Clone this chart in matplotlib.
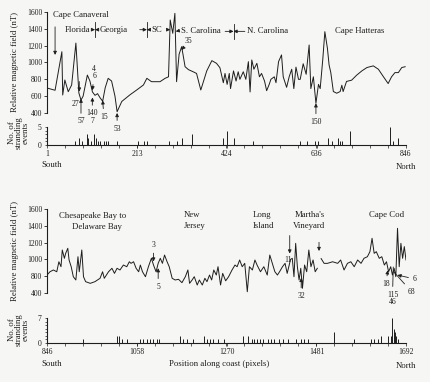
import matplotlib

matplotlib.use("Agg")

import matplotlib.pyplot as plt
import numpy as np

# ---- magnetic field trace, south section (position along coast, nT) ----
south_pos = [1, 20, 36, 38, 43, 51, 59, 69, 76, 81, 86, 96, 102, 108, 114, 120, 126, 132, 138, 145,
             153, 161, 166, 177, 196, 212, 228, 236, 247, 267, 279, 287, 291, 297, 302, 306, 312, 318,
             326, 334, 345, 353, 363, 377, 389, 400, 408, 416, 420, 425, 430, 433, 440, 446, 451, 455,
             463, 469, 475, 479, 483, 488, 495, 501, 506, 513, 518, 524, 528, 536, 540, 546, 553, 557,
             565, 571, 577, 582, 587, 593, 597, 604, 611, 618, 622, 628, 634, 640, 644, 650, 655, 661,
             665, 669, 675, 683, 691, 695, 698, 706, 718, 730, 742, 754, 769, 781, 793, 804, 812, 820,
             828, 836, 844]
south_field = [697, 670, 1128, 614, 792, 653, 733, 1231, 638, 554, 600, 851, 780, 650, 610, 630, 580,
               540, 700, 812, 780, 600, 415, 537, 615, 673, 733, 812, 772, 772, 812, 830, 1505, 1347,
               1584, 772, 1100, 1188, 950, 915, 890, 870, 673, 900, 1022, 990, 938, 760, 870, 740, 870,
               690, 900, 780, 890, 800, 890, 800, 1010, 650, 1030, 920, 990, 830, 870, 780, 665, 740,
               800, 830, 760, 1010, 1090, 830, 705, 830, 920, 690, 945, 800, 800, 985, 860, 1208, 690,
               830, 515, 740, 690, 1030, 1366, 1170, 970, 880, 655, 635, 655, 730, 655, 775, 790, 850,
               900, 940, 960, 920, 830, 750, 830, 880, 880, 940, 950]

# ---- magnetic field trace, north section ----
north_pos = [846, 853, 861, 869, 874, 879, 882, 887, 890, 895, 898, 903, 908, 914, 919, 922, 928, 932,
             937, 948, 959, 971, 977, 981, 991, 999, 1005, 1011, 1018, 1026, 1034, 1040, 1044, 1050,
             1056, 1062, 1066, 1071, 1078, 1085, 1092, 1097, 1103, 1108, 1113, 1118, 1123, 1129, 1134,
             1141, 1148, 1156, 1164, 1172, 1178, 1182, 1188, 1193, 1200, 1205, 1212, 1218, 1223, 1229,
             1234, 1239, 1245, 1249, 1255, 1260, 1267, 1274, 1282, 1289, 1294, 1300, 1306, 1312, 1318,
             1323, 1330, 1336, 1341, 1349, 1357, 1365, 1371, 1377, 1383, 1389, 1394, 1401, 1407, 1412,
             1420, 1424, 1428, 1432, 1436, 1440, 1444, 1448, 1453, 1458, 1463, 1468, 1473, 1478, 1483,
             1487, 1492, 1499, 1507, 1519, 1531, 1538, 1546, 1554, 1562, 1570, 1578, 1586, 1593, 1601,
             1607, 1612, 1617, 1622, 1629, 1635, 1641, 1646, 1651, 1656, 1660, 1664, 1668, 1672, 1676,
             1680, 1684, 1688, 1692]
north_field = [814, 853, 874, 853, 972, 913, 1112, 1013, 1072, 1132, 993, 913, 794, 755, 1032, 853,
               1112, 794, 735, 715, 735, 775, 853, 775, 853, 894, 834, 894, 874, 933, 913, 972, 953,
               972, 894, 853, 933, 853, 794, 913, 1013, 933, 853, 953, 1013, 953, 1052, 972, 913, 775,
               755, 763, 723, 794, 874, 715, 755, 794, 695, 755, 695, 775, 735, 814, 755, 874, 814, 913,
               695, 834, 745, 794, 874, 933, 913, 993, 913, 953, 615, 913, 874, 993, 933, 853, 913, 814,
               1052, 953, 853, 814, 853, 913, 953, 834, 1000, 1013, 794, 1191, 913, 755, 894, 656, 933,
               853, 1112, 913, 993, 853, 894, np.nan, 1010, 953, 953, 972, 953, 993, 874, 953, 972, 913,
               993, 953, 1013, 1032, 1092, 1251, 1072, 1092, 1013, 1032, 933, 972, 853, 913, 814, 894,
               794, 1370, 913, 1191, 1013, 1152, 993]

# ---- stranding events ----
south_strand_pos = [67, 77, 83, 94, 98, 104, 112, 116, 122, 126, 134, 140, 145, 165, 216, 229, 237, 287,
                    308, 318, 342, 415, 424, 440, 487, 597, 612, 632, 640, 663, 671, 687, 691, 695, 714,
                    808, 816, 828, 845]
south_strand_n = [1, 2, 1, 3, 2, 1, 3, 2, 1, 1, 1, 1, 1, 1, 1, 1, 1, 1, 1, 2, 3, 2, 4, 2, 1, 1, 1, 1, 1,
                  2, 1, 2, 1, 1, 4, 5, 1, 2, 3]
north_strand_pos = [932, 1011, 1016, 1023, 1035, 1066, 1073, 1082, 1089, 1096, 1106, 1111, 1160, 1167,
                    1177, 1189, 1215, 1222, 1231, 1238, 1248, 1262, 1307, 1319, 1328, 1333, 1342, 1349,
                    1356, 1366, 1373, 1380, 1392, 1401, 1415, 1432, 1444, 1451, 1460, 1522, 1569, 1609,
                    1616, 1626, 1633, 1649, 1656, 1660, 1663, 1665, 1668, 1673]
north_strand_n = [1, 2, 2, 1, 1, 1, 1, 1, 1, 1, 1, 1, 2, 1, 1, 1, 2, 1, 1, 1, 1, 1, 2, 2, 1, 1, 1, 1, 1,
                  1, 1, 1, 1, 1, 1, 1, 1, 1, 1, 3, 1, 1, 1, 1, 2, 2, 2, 7, 4, 3, 2, 1]

south_ticks = [1, 213, 424, 636, 846]
north_ticks = [846, 1058, 1270, 1481, 1692]

INK = "#1e1e1e"
BG = "#f6f6f4"

plt.rcParams["font.family"] = ["Liberation Serif", "DejaVu Serif"]
plt.rcParams["text.color"] = INK
plt.rcParams["axes.edgecolor"] = INK
plt.rcParams["xtick.color"] = INK
plt.rcParams["ytick.color"] = INK

W, H = 431, 382
fig = plt.figure(figsize=(W / 100, H / 100), dpi=100, facecolor=BG)


def px_axes(left, top, right, bottom):
    return fig.add_axes([left / W, 1 - bottom / H, (right - left) / W, (bottom - top) / H])


def style_field_axis(ax, lo, ticks, labels):
    ax.set_facecolor("none")
    for side in ["top", "right", "bottom"]:
        ax.spines[side].set_visible(False)
    ax.spines["left"].set_linewidth(0.8)
    ax.set_ylim(lo, 1600)
    ax.set_yticks(ticks, labels)
    ax.tick_params(axis="y", length=2, width=0.6, labelsize=5.5, pad=1.5)
    ax.set_xticks([])


def style_strand_axis(ax, x0, x1, ymax, ticks):
    ax.set_facecolor("none")
    for side in ["top", "right"]:
        ax.spines[side].set_visible(False)
    for side in ["left", "bottom"]:
        ax.spines[side].set_linewidth(0.8)
    ax.set_xlim(x0, x1)
    ax.set_ylim(0, ymax)
    ax.set_yticks([0, ymax], [str(0), str(ymax)])
    ax.set_yticks(range(ymax + 1), minor=True)
    ax.set_xticks(ticks, [str(t) for t in ticks])
    ax.set_xticks(np.linspace(x0, x1, 21), minor=True)
    ax.tick_params(axis="both", which="both", length=1.8, width=0.5, labelsize=5.5, pad=2)


arrow = dict(arrowstyle="-|>", color=INK, lw=0.6, mutation_scale=5, shrinkA=1, shrinkB=0)
line = dict(arrowstyle="-", color=INK, lw=0.6, shrinkA=1, shrinkB=0)
lab = dict(fontsize=6.3)
num = dict(fontsize=5.5, ha="center", va="center")

# ---------------- south panel ----------------
ax1 = px_axes(47, 12, 406, 113)
ax1.plot(south_pos, south_field, color=INK, lw=0.7)
ax1.set_xlim(1, 846)
style_field_axis(ax1, 400, [400, 600, 800, 1000, 1200, 1400, 1600],
                 ["400", "600", "800", "1000", "1200", "1400", "1600"])

ax1.text(15, 1560, "Cape Canaveral", ha="left", va="center", **lab)
ax1.annotate("", xy=(20, 1090), xytext=(20, 1440), arrowprops=arrow)
ax1.text(102, 1390, "Florida", ha="right", va="center", **lab)
ax1.text(126, 1390, "Georgia", ha="left", va="center", **lab)
ax1.text(247, 1390, "SC", ha="left", va="center", **lab)
ax1.text(316, 1370, "S. Carolina", ha="left", va="center", **lab)
ax1.text(472, 1370, "N. Carolina", ha="left", va="center", **lab)
ax1.text(738, 1370, "Cape Hatteras", ha="center", va="center", **lab)
for left, mid, right, yb in [(102, 114, 126, 1390), (214, 236, 247, 1390), (415, 440, 472, 1370)]:
    ax1.annotate("", xy=(mid, yb), xytext=(left + 2, yb), arrowprops=arrow)
    ax1.annotate("", xy=(mid, yb), xytext=(right - 2, yb), arrowprops=arrow)
    ax1.plot([mid, mid], [yb - 90, yb + 90], color=INK, lw=0.6)
ax1.annotate("", xy=(291, 1390), xytext=(281, 1390), arrowprops=arrow)
ax1.annotate("", xy=(304, 1370), xytext=(314, 1380), arrowprops=arrow)

ax1.annotate("35", xy=(318, 1150), xytext=(335, 1250), arrowprops=arrow, **num)
ax1.annotate("", xy=(77, 655), xytext=(77, 790), arrowprops=arrow)
ax1.text(67, 507, "27", **num)
ax1.annotate("57", xy=(81, 570), xytext=(81, 300), arrowprops=arrow, **num)
ax1.annotate("4\n6", xy=(108, 670), xytext=(112, 880), arrowprops=arrow, linespacing=0.95, **num)
ax1.annotate("140\n7", xy=(108, 585), xytext=(107, 350), arrowprops=arrow, linespacing=0.95, **num)
ax1.annotate("15", xy=(132, 550), xytext=(135, 355), arrowprops=arrow, **num)
ax1.annotate("53", xy=(166, 400), xytext=(166, 215), arrowprops=arrow, **num)
ax1.annotate("150", xy=(634, 515), xytext=(634, 295), arrowprops=arrow, **num)

ax2 = px_axes(47, 127, 406, 145)
ax2.vlines(south_strand_pos, 0, south_strand_n, color=INK, lw=0.7)
style_strand_axis(ax2, 1, 846, 5, south_ticks)

# ---------------- north panel ----------------
ax3 = px_axes(47, 209, 406, 293)
ax3.plot(north_pos, north_field, color=INK, lw=0.7)
ax3.set_xlim(846, 1692)
style_field_axis(ax3, 600, [600, 800, 1000, 1200, 1400, 1600],
                 ["400", "800", "1000", "1200", "1400", "1600"])

for x, y, s in [(953, 1520, "Chesapeake Bay to"), (964, 1389, "Delaware Bay"),
                (1188, 1528, "New"), (1194, 1397, "Jersey"),
                (1353, 1528, "Long"), (1356, 1397, "Island"),
                (1465, 1528, "Martha's"), (1463, 1397, "Vineyard"),
                (1647, 1528, "Cape Cod")]:
    ax3.text(x, y, s, ha="center", va="center", **lab)

ax3.annotate("3", xy=(1097, 975), xytext=(1097, 1171), arrowprops=arrow, **num)
ax3.annotate("5", xy=(1108, 895), xytext=(1108, 675), arrowprops=arrow, **num)
ax3.annotate("", xy=(1418, 1070), xytext=(1418, 1300), arrowprops=arrow)
ax3.text(1414, 993, "11", **num)
ax3.annotate("32", xy=(1445, 779), xytext=(1445, 564), arrowprops=arrow, **num)
ax3.annotate("", xy=(1487, 1100), xytext=(1487, 1220), arrowprops=arrow)
ax3.annotate("18", xy=(1649, 870), xytext=(1645, 707), arrowprops=arrow, **num)
ax3.annotate("115\n46", xy=(1662, 910), xytext=(1660, 535), arrowprops=line, linespacing=0.95, **num)
ax3.annotate("6", xy=(1672, 814), xytext=(1712, 767), arrowprops=arrow, **num)
ax3.annotate("68", xy=(1663, 853), xytext=(1705, 615), arrowprops=line, **num)

ax4 = px_axes(47, 318, 406, 343)
ax4.vlines(north_strand_pos, 0, north_strand_n, color=INK, lw=0.7)
style_strand_axis(ax4, 846, 1692, 7, north_ticks)

# ---------------- axis titles ----------------
ylab = dict(rotation=90, ha="center", va="center", fontsize=6.3)
fig.text(15 / W, 1 - 62 / H, "Relative magnetic field (nT)", **ylab)
fig.text(15 / W, 1 - 251 / H, "Relative magnetic field (nT)", **ylab)
fig.text(19 / W, 1 - 133 / H, "No. of\nstranding\nevents", linespacing=0.85, **ylab)
fig.text(19 / W, 1 - 330 / H, "No. of\nstranding\nevents", linespacing=0.85, **ylab)

fig.text(52 / W, 1 - 165 / H, "South", ha="center", va="center", fontsize=6.3)
fig.text(406 / W, 1 - 167 / H, "North", ha="center", va="center", fontsize=6.3)
fig.text(52 / W, 1 - 364 / H, "South", ha="center", va="center", fontsize=6.3)
fig.text(219 / W, 1 - 364 / H, "Position along coast (pixels)", ha="center", va="center", fontsize=6.3)
fig.text(406 / W, 1 - 366 / H, "North", ha="center", va="center", fontsize=6.3)

fig.savefig("out.png", dpi=100, facecolor=BG)
